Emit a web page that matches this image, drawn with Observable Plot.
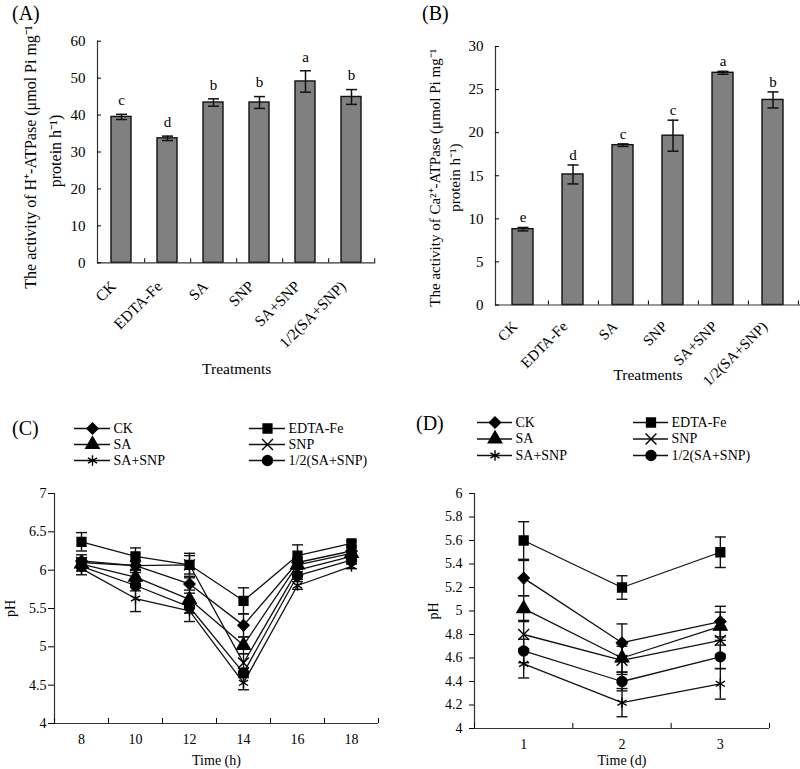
<!DOCTYPE html>
<html><head><meta charset="utf-8">
<script src="https://cdn.jsdelivr.net/npm/d3@7"></script>
<script src="https://cdn.jsdelivr.net/npm/@observablehq/plot@0.6"></script>
<style>
body{margin:0;background:#fff;}
#fig{position:relative;width:800px;height:769px;overflow:hidden;font-family:"Liberation Serif","Times New Roman",serif;color:#000;}
#fig svg{position:absolute;}
.plabel{position:absolute;font-size:20px;line-height:1;}
</style></head><body><div id="fig"></div>
<script>
// ---------- data ----------
const treatments = ["CK","EDTA-Fe","SA","SNP","SA+SNP","1/2(SA+SNP)"];
const hAtpase    = [39.5, 33.7, 43.4, 43.4, 49.1, 44.9];
const hAtpaseErr = [0.7, 0.6, 1.0, 1.6, 2.9, 2.0];
const hLetters   = ["c","d","b","b","a","b"];
const caAtpase    = [8.8, 15.15, 18.55, 19.65, 26.95, 23.8];
const caAtpaseErr = [0.2, 1.1, 0.15, 1.8, 0.17, 0.93];
const caLetters   = ["e","d","c","c","a","b"];

const series = ["CK","EDTA-Fe","SA","SNP","SA+SNP","1/2(SA+SNP)"];
const seriesSymbols = ["diamond2","square","triangle","times","asterisk","circle"];

const hours = [8,10,12,14,16,18];
const hourTicks = [8,10,12,14,16,18];
const hourMinorTicks = [7,9,11,13,15,17,19];
const phHours = {
  "CK":          [6.12, 6.06, 5.82, 5.28, 6.10, 6.25],
  "EDTA-Fe":     [6.37, 6.18, 6.07, 5.60, 6.19, 6.35],
  "SA":          [6.08, 5.91, 5.62, 5.02, 6.07, 6.22],
  "SNP":         [6.10, 6.06, 6.07, 4.79, 6.00, 6.18],
  "SA+SNP":      [6.02, 5.63, 5.47, 4.53, 5.80, 6.05],
  "1/2(SA+SNP)": [6.05, 5.80, 5.52, 4.66, 5.93, 6.13]
};
const phHoursErr = {
  "CK":          [0.08, 0.06, 0.08, 0.15, 0.06, 0.04],
  "EDTA-Fe":     [0.12, 0.11, 0.15, 0.17, 0.14, 0.03],
  "SA":          [0.06, 0.06, 0.08, 0.11, 0.06, 0.03],
  "SNP":         [0.06, 0.05, 0.12, 0.12, 0.06, 0.03],
  "SA+SNP":      [0.08, 0.17, 0.14, 0.09, 0.05, 0.03],
  "1/2(SA+SNP)": [0.06, 0.07, 0.08, 0.06, 0.05, 0.04]
};
const phHourTicks = [4, 4.5, 5, 5.5, 6, 6.5, 7];

const days = [1,2,3];
const dayTicks = [1,2,3];
const dayMinorTicks = [0.5,1.5,2.5,3.5];
const phDays = {
  "CK":          [5.28, 4.73, 4.91],
  "EDTA-Fe":     [5.60, 5.20, 5.50],
  "SA":          [5.02, 4.60, 4.87],
  "SNP":         [4.80, 4.58, 4.75],
  "SA+SNP":      [4.55, 4.22, 4.38],
  "1/2(SA+SNP)": [4.66, 4.40, 4.61]
};
const phDaysErr = {
  "CK":          [0.15, 0.16, 0.13],
  "EDTA-Fe":     [0.16, 0.10, 0.13],
  "SA":          [0.11, 0.12, 0.12],
  "SNP":         [0.12, 0.12, 0.12],
  "SA+SNP":      [0.12, 0.12, 0.13],
  "1/2(SA+SNP)": [0.10, 0.08, 0.10]
};
const phDayTicks = [4, 4.2, 4.4, 4.6, 4.8, 5, 5.2, 5.4, 5.6, 5.8, 6];

const legendRows = [["CK","EDTA-Fe"],["SA","SNP"],["SA+SNP","1/2(SA+SNP)"]];

// ---------- helpers ----------
const fig = document.getElementById("fig");
const FONT = "'Liberation Serif', 'Times New Roman', serif";
function place(svg, left, top) {
  svg.style.left = left + "px";
  svg.style.top = top + "px";
  fig.appendChild(svg);
}
function label(txt, left, top) {
  const d = document.createElement("div");
  d.className = "plabel"; d.textContent = txt;
  d.style.left = left + "px"; d.style.top = top + "px";
  fig.appendChild(d);
}
const capSymbol = {draw(ctx) { ctx.moveTo(-5.5, 0); ctx.lineTo(5.5, 0); }};
const style = (fs) => ({background: "transparent", overflow: "visible", fontFamily: FONT, fontSize: fs + "px", color: "black"});

function barPanel(o) {
  const data = treatments.map((t, i) => ({t, v: o.vals[i], e: o.errs[i], l: o.letters[i]}));
  const step = (o.width - o.mL - o.mR) / treatments.length;
  return Plot.plot({
    width: o.width, height: o.height,
    marginLeft: o.mL, marginRight: o.mR, marginTop: o.mT, marginBottom: o.mB,
    style: style(15),
    x: {type: "band", domain: treatments, paddingInner: o.pad, paddingOuter: o.pad / 2},
    y: {domain: [0, o.yMax]},
    marks: [
      Plot.barY(data, {x: "t", y: "v", fill: "#808080", stroke: "#111", strokeWidth: 1.4}),
      Plot.ruleX(data, {x: "t", y1: d => d.v - d.e, y2: d => d.v + d.e, stroke: "#111", strokeWidth: 1.5}),
      Plot.dot(data, {x: "t", y: d => d.v + d.e, symbol: capSymbol, stroke: "#111", strokeWidth: 1.5}),
      Plot.dot(data, {x: "t", y: d => d.v - d.e, symbol: capSymbol, stroke: "#111", strokeWidth: 1.5}),
      Plot.text(data, {x: "t", y: d => d.v + d.e, text: "l", dy: o.letterDy, fontSize: 15}),
      Plot.ruleY([0], {stroke: "#333", strokeWidth: 1.2}),
      Plot.frame({anchor: "left", stroke: "#333", strokeWidth: 1.2}),
      Plot.axisY({ticks: o.yTicks, tickSize: -4, tickPadding: o.yPad, label: null, fontSize: 15}),
      Plot.axisX({tickSize: -4, tickFormat: () => "", dx: step / 2, label: null}),
      Plot.axisX({tickRotate: -45, tickSize: 0, tickPadding: o.xPad, dx: o.xDx, label: null, fontSize: o.xFont}),
      Plot.text([o.title1], {frameAnchor: "left", rotate: -90, dx: o.t1dx, dy: o.t1dy, fontSize: o.tFont, textAnchor: "middle", lineAnchor: "middle"}),
      Plot.text([o.title2], {frameAnchor: "left", rotate: -90, dx: o.t2dx, dy: o.t2dy, fontSize: o.tFont, textAnchor: "middle", lineAnchor: "middle"}),
      Plot.text(["Treatments"], {frameAnchor: "bottom", dy: o.xTitleDy, fontSize: 15.5, textAnchor: "middle", lineAnchor: "middle"})
    ]
  });
}

function lineData(xs, vals, errs) {
  return series.flatMap(s => xs.map((t, i) => ({s, t, v: vals[s][i], e: errs[s][i]})));
}

function linePanel(o) {
  const data = lineData(o.xs, o.vals, o.errs);
  return Plot.plot({
    width: o.width, height: o.height,
    marginLeft: o.mL, marginRight: o.mR, marginTop: o.mT, marginBottom: o.mB,
    style: style(14),
    x: {domain: o.xDomain},
    y: {domain: o.yDomain},
    symbol: {domain: series, range: seriesSymbols},
    marks: [
      Plot.ruleY([o.yDomain[0]], {stroke: "#333", strokeWidth: 1.2}),
      Plot.ruleX([o.xDomain[0]], {stroke: "#333", strokeWidth: 1.2}),
      Plot.axisY({ticks: o.yTicks, tickSize: o.ySize, tickPadding: o.yPad, tickFormat: d => String(d), label: null, fontSize: 14}),
      Plot.axisX({ticks: o.xTicks, tickSize: 0, tickPadding: o.xPad, tickFormat: d => String(d), label: null, fontSize: 14}),
      Plot.axisX({ticks: o.xMinor, tickSize: -5, tickFormat: () => "", label: null}),
      Plot.line(data, {x: "t", y: "v", z: "s", stroke: "#111", strokeWidth: 1.3}),
      Plot.ruleX(data, {x: "t", y1: d => d.v - d.e, y2: d => d.v + d.e, stroke: "#111", strokeWidth: 1.4}),
      Plot.dot(data, {x: "t", y: d => d.v + d.e, symbol: capSymbol, stroke: "#111", strokeWidth: 1.4}),
      Plot.dot(data, {x: "t", y: d => d.v - d.e, symbol: capSymbol, stroke: "#111", strokeWidth: 1.4}),
      Plot.dot(data, {x: "t", y: "v", symbol: "s", fill: "#000", stroke: "#000", strokeWidth: 1.4, r: 5}),
      Plot.text(["pH"], {frameAnchor: "left", rotate: -90, dx: o.phDx, fontSize: 14, textAnchor: "middle", lineAnchor: "middle"}),
      Plot.text([o.xTitle], {frameAnchor: "bottom", dy: o.xTitleDy, fontSize: 14, textAnchor: "middle", lineAnchor: "middle"})
    ]
  });
}

function legendPlot(o) {
  const items = legendRows.flatMap((r, ri) => r.map((s, ci) => ({s, col: ci, row: ri})));
  return Plot.plot({
    width: o.width, height: o.height, margin: 0,
    style: style(14),
    x: {domain: [0, 1], range: o.xRange, axis: null},
    y: {domain: [0, 2], range: o.yRange, axis: null},
    symbol: {domain: series, range: seriesSymbols},
    marks: [
      Plot.ruleY(items, {x1: "col", x2: "col", y: "row", insetRight: -o.lineLen, stroke: "#111", strokeWidth: 1.3}),
      Plot.dot(items, {x: "col", y: "row", dx: o.lineLen / 2, symbol: "s", fill: "#000", stroke: "#000", strokeWidth: 1.4, r: 5}),
      Plot.text(items, {x: "col", y: "row", text: "s", dx: o.lineLen + 3, textAnchor: "start", fontSize: 14})
    ]
  });
}

// ---------- panels ----------
place(barPanel({
  vals: hAtpase, errs: hAtpaseErr, letters: hLetters, yMax: 60, yTicks: [0,10,20,30,40,50,60],
  width: 400, height: 380, mL: 97, mR: 24.6, mT: 40.7, mB: 117.7, pad: 0.57,
  letterDy: -14, yPad: 16, xPad: 21, xDx: -8, xFont: 15.5, tFont: 16,
  title1: "The activity of H\u207A-ATPase (\u03BCmol Pi mg\u207B\u00B9", title2: "protein h\u207B\u00B9)",
  t1dx: -67, t1dy: 5, t2dx: -42, t2dy: -1, xTitleDy: 106
}), 0, 0);

place(barPanel({
  vals: caAtpase, errs: caAtpaseErr, letters: caLetters, yMax: 30, yTicks: [0,5,10,15,20,25,30],
  width: 400, height: 380, mL: 95, mR: 0, mT: 46, mB: 75.5, pad: 0.59,
  letterDy: -10, yPad: 16, xPad: 19, xDx: -8, xFont: 15, tFont: 15,
  title1: "The activity of Ca\u00B2\u207A-ATPase (\u03BCmol Pi mg\u207B\u00B9", title2: "protein h\u207B\u00B9)",
  t1dx: -60, t1dy: 2, t2dx: -40, t2dy: 2, xTitleDy: 70.5
}), 400, 0);

place(linePanel({
  xs: hours, vals: phHours, errs: phHoursErr, xDomain: [7, 19], yDomain: [4, 7],
  yTicks: phHourTicks, xTicks: hourTicks, xMinor: hourMinorTicks,
  width: 400, height: 389, mL: 54, mR: 22, mT: 113, mB: 46,
  ySize: 6, yPad: 2, xPad: 11, phDx: -44, xTitle: "Time (h)", xTitleDy: 37
}), 0, 380);

place(linePanel({
  xs: days, vals: phDays, errs: phDaysErr, xDomain: [0.5, 3.5], yDomain: [4, 6],
  yTicks: phDayTicks, xTicks: dayTicks, xMinor: dayMinorTicks,
  width: 400, height: 389, mL: 74, mR: 31, mT: 113, mB: 41,
  ySize: 5, yPad: 7, xPad: 11, phDx: -41, xTitle: "Time (d)", xTitleDy: 32
}), 400, 380);

place(legendPlot({width: 400, height: 100, xRange: [74, 249], yRange: [48, 80], lineLen: 36}), 0, 380);
place(legendPlot({width: 400, height: 100, xRange: [77, 233], yRange: [42, 75], lineLen: 35}), 400, 380);

label("(A)", 12, 3);
label("(B)", 422, 3);
label("(C)", 12, 418);
label("(D)", 416, 413);
</script></body></html>
